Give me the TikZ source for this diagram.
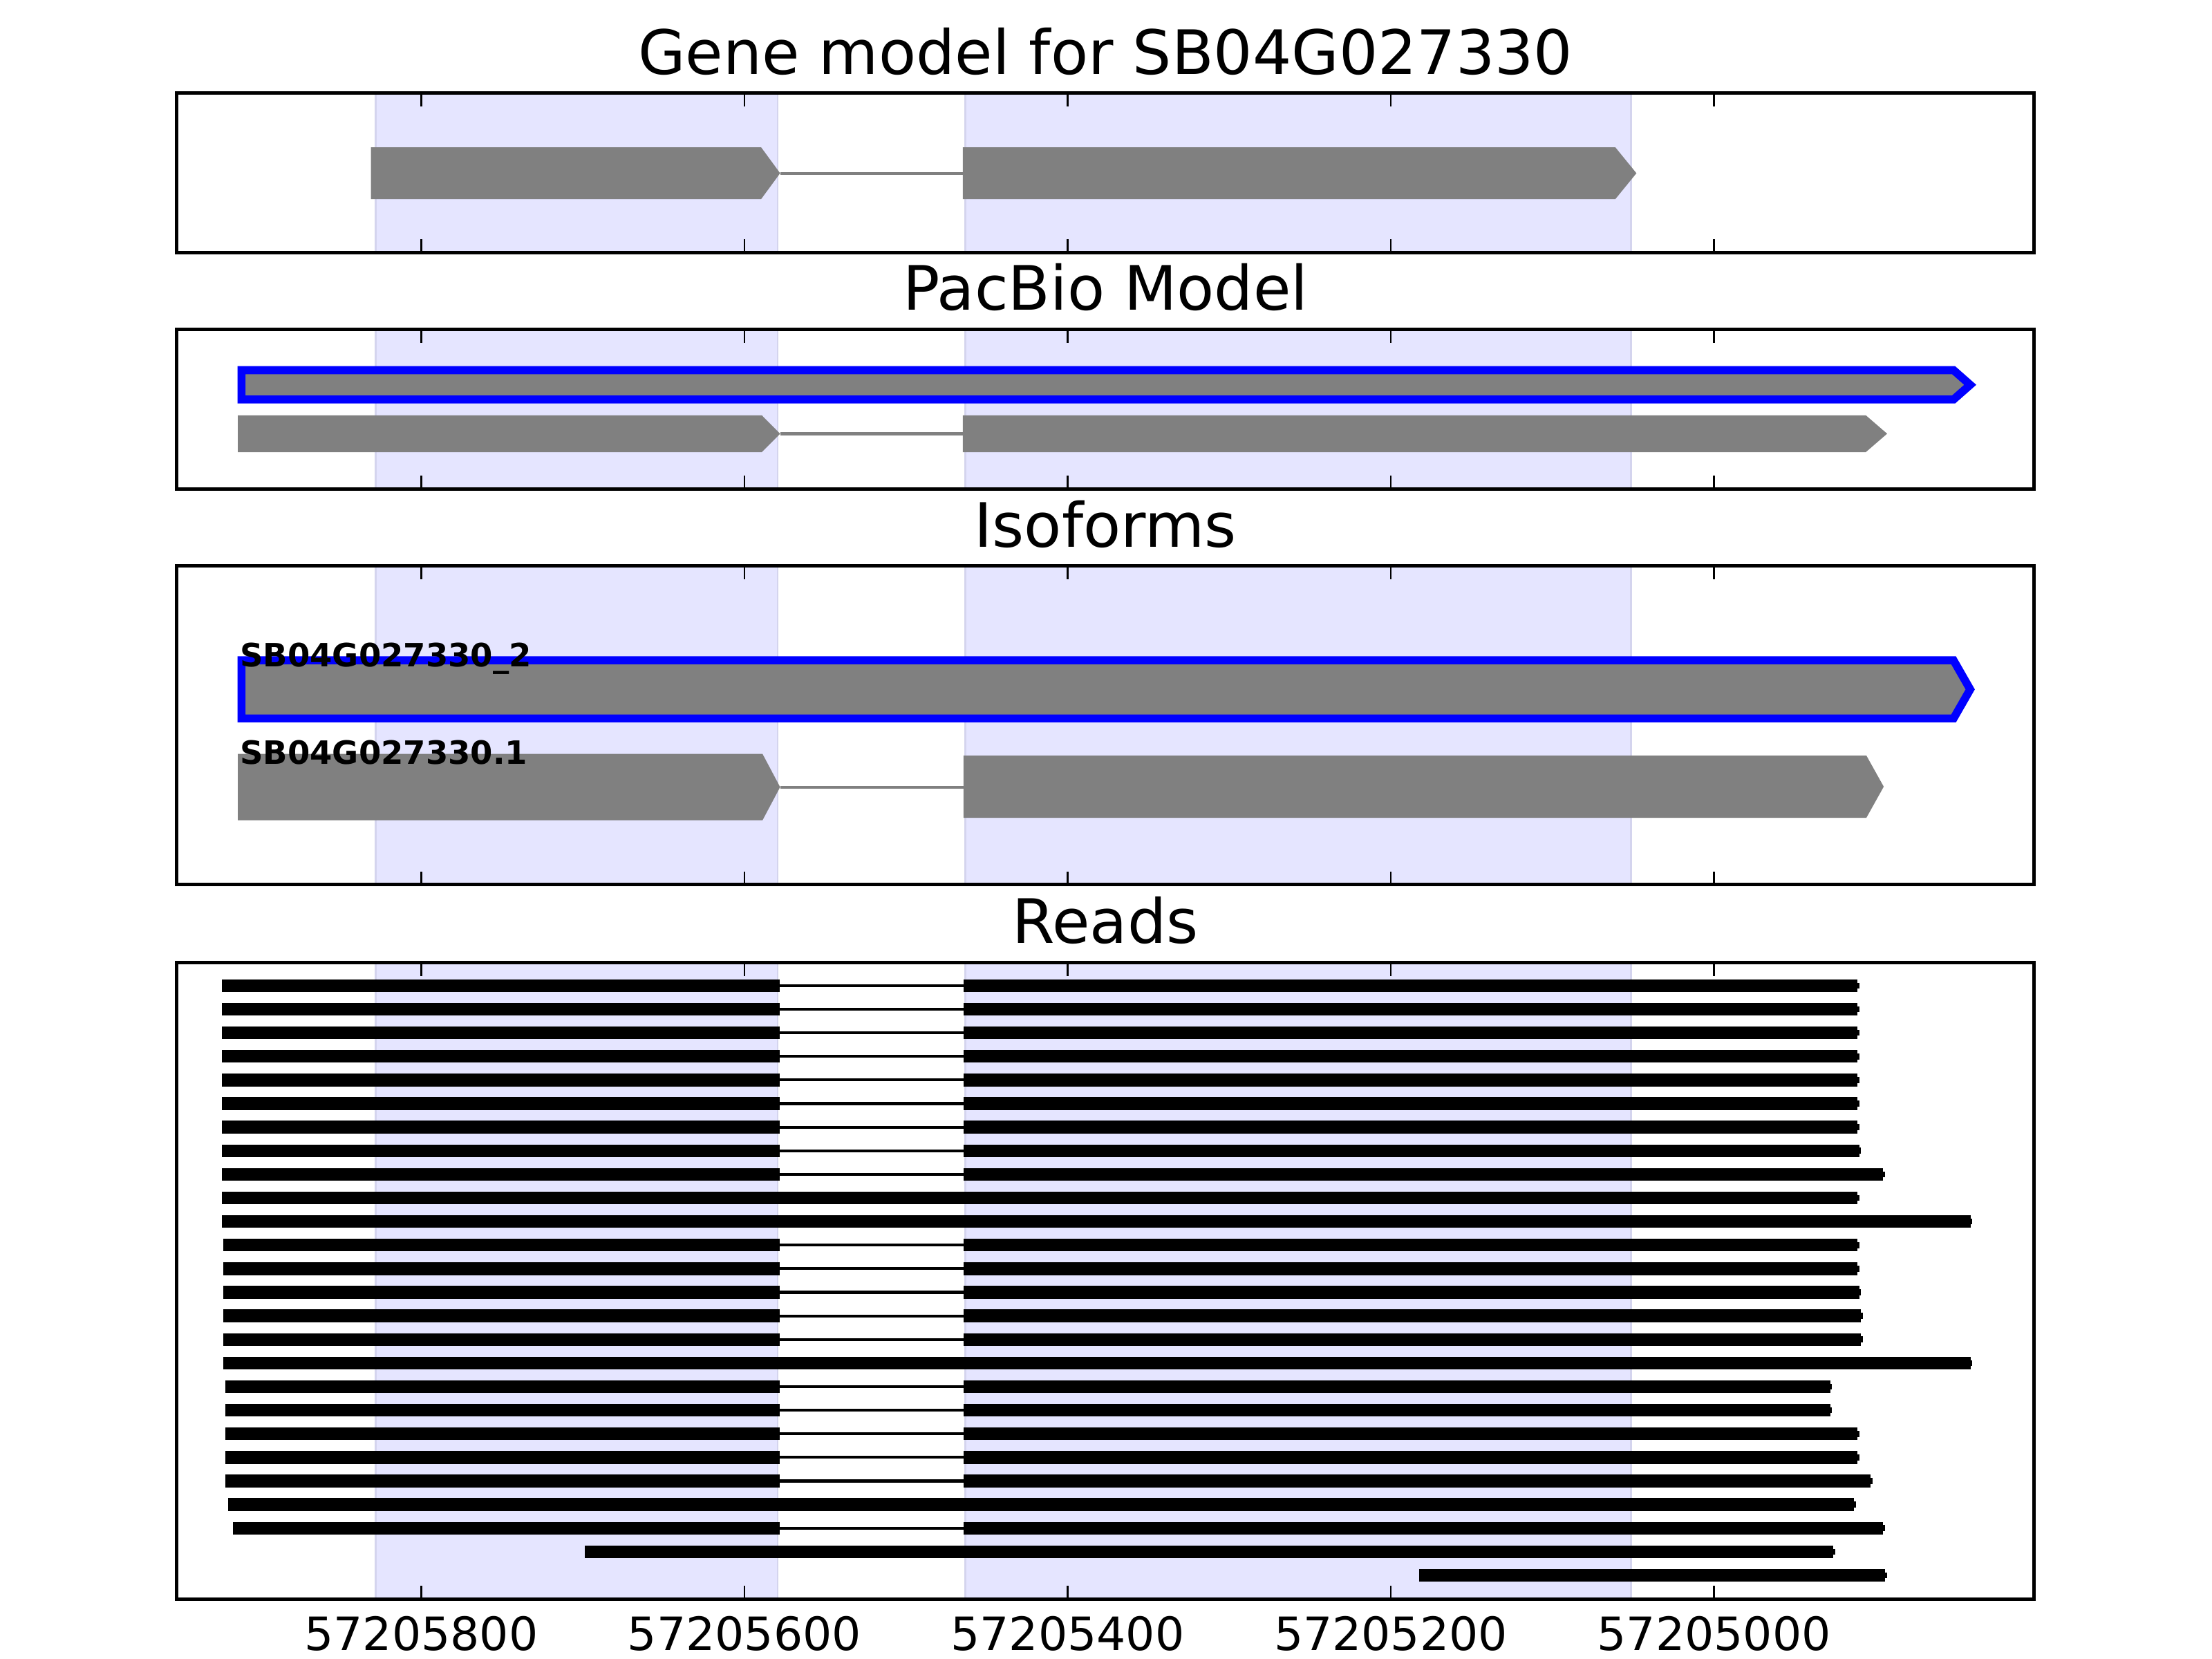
\documentclass[tikz,border=0pt]{standalone}
\usepackage{fontspec}
\setmainfont{DejaVu Sans}
\definecolor{shadeblue}{RGB}{229,229,255}
\definecolor{shadeedge}{RGB}{212,212,238}
\tikzset{
  panel/.style={
    draw=black,
    line width=0.9pt
  },
  exonshade/.style={
    fill=shadeblue,
    draw=shadeedge,
    line width=0.5pt
  },
  exon/.style={
    fill=gray,
    draw=none
  },
  pacbio/.style={
    fill=gray,
    draw=blue,
    line width=2.1pt,
    miter limit=10
  },
  intron/.style={
    draw=gray,
    line width=0.75pt
  },
  readbar/.style={
    fill=black
  },
  readintron/.style={
    draw=black,
    line width=0.75pt
  },
  tickmark/.style={
    line width=0.45pt
  },
  paneltitle/.style={
    font=\fontsize{16}{19}\selectfont,
    anchor=base
  },
  ticklabel/.style={
    font=\fontsize{12}{14}\selectfont,
    anchor=base
  },
  isolabel/.style={
    font=\bfseries\fontsize{8.4}{10}\selectfont,
    anchor=base west,
    inner sep=0pt
  }
}
% left, body end, tip, top, bottom
\newcommand{\exonarrow}[6][exon]{%
  \filldraw[#1] (#2,#5) -- (#3,#5) -- (#4,{(#5+#6)/2}) -- (#3,#6) -- (#2,#6) -- cycle;}

\begin{document}
\begin{tikzpicture}[x=0.36873pt, y=-0.36873pt]
  \useasboundingbox (0,0) rectangle (1568,1176);

  % ------------------------------------------------------------------
  % exon shading behind all panels
  % ------------------------------------------------------------------
  \foreach \ptop/\pbot in {66/179, 233.4/346.6, 401.3/627.2, 682.2/1133.8} {
    \filldraw[exonshade] (266.3,\ptop) rectangle (551.3,\pbot);
    \filldraw[exonshade] (684.3,\ptop) rectangle (1156,\pbot);
  }

  % ------------------------------------------------------------------
  % titles
  % ------------------------------------------------------------------
  \node[paneltitle] (tGene)  at (783.6,52.6)  {Gene model for SB04G027330};
  \node[paneltitle] (tPac)   at (783.6,219.8) {PacBio Model};
  \node[paneltitle] (tIso)   at (783.6,387.7) {Isoforms};
  \node[paneltitle] (tReads) at (783.6,668.6) {Reads};

  % ------------------------------------------------------------------
  % gene model
  % ------------------------------------------------------------------
  \draw[intron] (553,122.8) -- (682.5,122.8);
  \exonarrow{263}{539.5}{553}{104.4}{141.2}
  \exonarrow{682.5}{1145}{1160}{104.4}{141.2}

  % ------------------------------------------------------------------
  % PacBio model
  % ------------------------------------------------------------------
  \exonarrow[pacbio]{171.2}{1384.8}{1396.6}{262.4}{283.2}
  \draw[intron] (553,307.5) -- (682.5,307.5);
  \exonarrow{168.6}{540}{553}{294.4}{320.5}
  \exonarrow{682.5}{1322.6}{1337.7}{294.4}{320.5}

  % ------------------------------------------------------------------
  % isoforms
  % ------------------------------------------------------------------
  \exonarrow[pacbio]{171.2}{1384.8}{1396.6}{468.1}{509.3}
  \node[isolabel] (iso2) at (169.6,472.5) {SB04G027330\_2};
  \draw[intron] (553,558) -- (683,558);
  \exonarrow{168.6}{540.5}{553}{534.4}{581.5}
  \exonarrow{683}{1323}{1335.3}{535.6}{579.7}
  \node[isolabel] (iso1) at (169.6,541.5) {SB04G027330.1};

  % ------------------------------------------------------------------
  % reads: row / start / end
  % ------------------------------------------------------------------
  \foreach \row/\xs/\xe in {0/157.5/1316.7, 1/157.5/1316.7, 2/157.5/1316.7,
      3/157.5/1316.7, 4/157.5/1316.7, 5/157.5/1316.7, 6/157.5/1316.7,
      7/157.5/1318, 8/157.5/1334.9, 11/158.4/1316.7, 12/158.4/1316.7,
      13/158.4/1318, 14/158.4/1319, 15/158.4/1319, 17/159.7/1297.4,
      18/159.7/1297.4, 19/159.7/1316.7, 20/159.7/1316.7, 21/159.7/1326,
      23/165.3/1334.9} {
    \pgfmathsetmacro{\y}{698.7+16.72*\row}
    \fill[readbar] (\xs,\y-4.5) rectangle (552.5,\y+4.5);
    \draw[readintron] (552.5,\y) -- (683,\y);
    \fill[readbar] (683,\y-4.5) rectangle (\xe,\y+4.5);
    \fill[readbar] (\xe,\y-2.1) rectangle ++(1.3,4.2);
  }
  % unspliced reads
  \foreach \row/\xs/\xe in {9/157.5/1316.7, 10/157.5/1396.8, 16/158.4/1396.8,
      22/161.9/1314.3, 24/414.7/1299.6, 25/1005.8/1336.3} {
    \pgfmathsetmacro{\y}{698.7+16.72*\row}
    \fill[readbar] (\xs,\y-4.5) rectangle (\xe,\y+4.5);
    \fill[readbar] (\xe,\y-2.1) rectangle ++(1.3,4.2);
  }

  % ------------------------------------------------------------------
  % ticks and frames
  % ------------------------------------------------------------------
  \foreach \ptop/\pbot in {66/179, 233.4/346.6, 401.3/627.2, 682.2/1133.8} {
    \foreach \tx in {298.6,527.7,756.8,985.9,1215} {
      \draw[tickmark] (\tx,\ptop) -- ++(0,9.5);
      \draw[tickmark] (\tx,\pbot) -- ++(0,-9.5);
    }
    \draw[panel] (125.3,\ptop) rectangle (1442,\pbot);
  }

  \foreach \tx/\tl in {298.6/57205800, 527.7/57205600, 756.8/57205400,
      985.9/57205200, 1215/57205000}
    \node[ticklabel] (tick\tl) at (\tx,1170) {\tl};
\end{tikzpicture}
\end{document}
